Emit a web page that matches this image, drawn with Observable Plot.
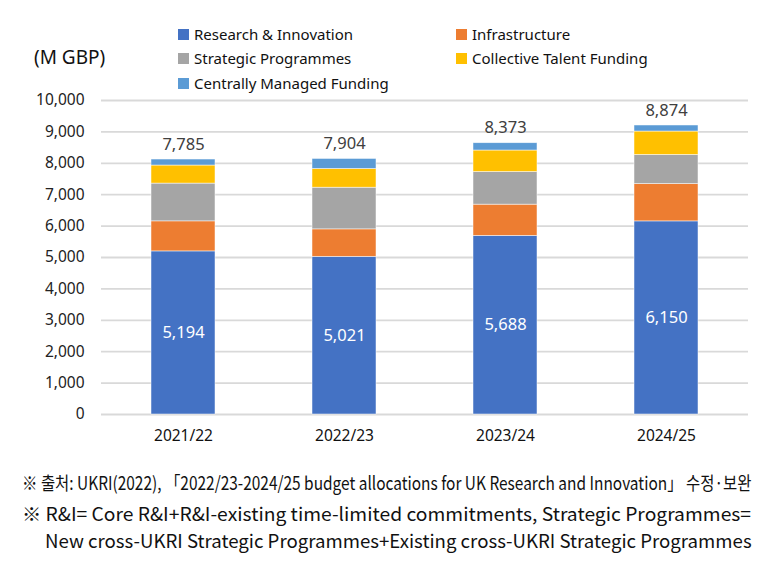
<!DOCTYPE html>
<html>
<head>
<meta charset="utf-8">
<script src="https://cdn.jsdelivr.net/npm/d3@7"></script>
<script src="https://cdn.jsdelivr.net/npm/@observablehq/plot@0.6"></script>
<style>
  html, body { margin: 0; padding: 0; background: #fff; }
  #wrap { position: relative; width: 773px; height: 567px; overflow: hidden; font-family: "Noto Sans", Lato, sans-serif; }
  #legend { position: absolute; left: 0; top: 0; width: 773px; height: 80px; z-index: 2; }
  .unit { position: absolute; left: 34px; top: 44px; font-size: 19px; color: #111; }
  .item { position: absolute; font-size: 15px; color: #111; line-height: 20px; white-space: nowrap; }
  .sw { display: inline-block; width: 11px; height: 11px; margin-right: 5px; vertical-align: 0px; }
  #chart { position: absolute; left: 0; top: 80px; z-index: 1; }
  #notes { position: absolute; left: 0; top: 454px; }
</style>
</head>
<body>
<div id="wrap">
  <div id="legend"></div>
  <div id="chart"></div>
  <svg id="notes" width="773" height="113"></svg>
</div>
<script>
const years = ["2021/22", "2022/23", "2023/24", "2024/25"];
const seriesNames = ["Research & Innovation", "Infrastructure", "Strategic Programmes", "Collective Talent Funding", "Centrally Managed Funding"];
const seriesColors = ["#4472C4", "#ED7D31", "#A5A5A5", "#FFC000", "#5B9BD5"];
const researchInnovation = [5194, 5021, 5688, 6150];
const infrastructure = [957, 875, 995, 1189];
const strategicProgrammes = [1203, 1327, 1039, 927];
const collectiveTalent = [575, 597, 685, 746];
const centrallyManaged = [191, 319, 233, 192];
const totalLabels = [7785, 7904, 8373, 8874];
const yTicks = [0, 1000, 2000, 3000, 4000, 5000, 6000, 7000, 8000, 9000, 10000];
const unitLabel = "(M GBP)";
const notes = [
  "※ 출처: UKRI(2022), 「2022/23-2024/25 budget allocations for UK Research and Innovation」 수정·보완",
  "※ R&I= Core R&I+R&I-existing time-limited commitments, Strategic Programmes=",
  "New cross-UKRI Strategic Programmes+Existing cross-UKRI Strategic Programmes"
];

const seriesValues = [researchInnovation, infrastructure, strategicProgrammes, collectiveTalent, centrallyManaged];
const rows = [];
years.forEach((yr, i) => {
  seriesNames.forEach((s, j) => rows.push({year: yr, series: s, value: seriesValues[j][i]}));
});
const totals = years.map((yr, i) => ({
  year: yr,
  stackTop: d3.sum(seriesValues, arr => arr[i]),
  label: totalLabels[i]
}));
const riRows = years.map((yr, i) => ({year: yr, value: researchInnovation[i]}));
const fmt = d3.format(",");

// Legend
const legend = document.getElementById("legend");
const unit = document.createElement("div");
unit.className = "unit";
unit.textContent = unitLabel;
legend.appendChild(unit);
const legendPos = [[178, 24], [456, 24], [178, 48], [456, 48], [178, 73]];
seriesNames.forEach((s, j) => {
  const d = document.createElement("div");
  d.className = "item";
  d.style.left = legendPos[j][0] + "px";
  d.style.top = legendPos[j][1] + "px";
  const sw = document.createElement("span");
  sw.className = "sw";
  sw.style.background = seriesColors[j];
  d.appendChild(sw);
  d.appendChild(document.createTextNode(s));
  legend.appendChild(d);
});

// Chart
const chart = Plot.plot({
  width: 773,
  height: 374,
  marginTop: 20,
  marginBottom: 40,
  marginLeft: 101,
  marginRight: 25,
  style: {fontFamily: "'Noto Sans', Lato, sans-serif", fontSize: "15px", color: "#222", background: "transparent"},
  x: {domain: years, paddingInner: 0.6, paddingOuter: 0.3, label: null},
  y: {domain: [0, 10000], label: null},
  color: {domain: seriesNames, range: seriesColors},
  marks: [
    Plot.ruleY(yTicks, {stroke: "#d9d9d9", strokeWidth: 1.8}),
    Plot.barY(rows, {x: "year", y: "value", fill: "series", stroke: "#ffffff", strokeWidth: 0.7, strokeOpacity: 0.7}),
    Plot.axisY({ticks: yTicks, tickSize: 0, tickPadding: 17, tickFormat: fmt, label: null, fontSize: 15.5}),
    Plot.axisX({tickSize: 0, tickPadding: 15, label: null, fontSize: 15.5, fill: "#111"}),
    Plot.text(riRows, {x: "year", y: d => d.value / 2, text: d => fmt(d.value), fill: "white", fontSize: 16.5}),
    Plot.text(totals, {x: "year", y: "stackTop", dy: -15, text: d => fmt(d.label), fill: "#404040", fontSize: 16.5})
  ]
});
document.getElementById("chart").appendChild(chart);

// Notes: condensed via horizontal scale to match the reference widths
const svg = d3.select("#notes");
const noteSpecs = [
  {x: 22, y: 36, len: 730},
  {x: 22, y: 67, len: 730},
  {x: 45, y: 94, len: 707}
];
notes.forEach((t, i) => {
  const g = svg.append("g");
  const txt = g.append("text")
    .attr("x", 0)
    .attr("y", 0)
    .attr("font-family", "'Noto Sans CJK KR', 'Noto Sans', sans-serif")
    .attr("font-size", 18.5)
    .attr("fill", "#111")
    .text(t);
  const natural = txt.node().getComputedTextLength() || noteSpecs[i].len;
  const k = noteSpecs[i].len / natural;
  g.attr("transform", `translate(${noteSpecs[i].x},${noteSpecs[i].y}) scale(${k},1)`);
});
</script>
</body>
</html>
